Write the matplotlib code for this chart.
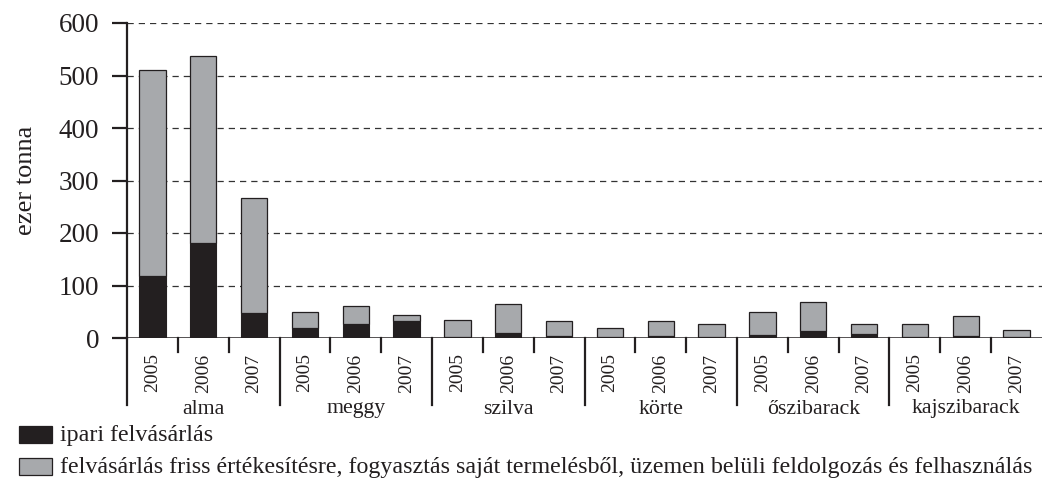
import numpy as np
import matplotlib.pyplot as plt
from matplotlib.patches import Rectangle
from matplotlib.lines import Line2D
import matplotlib.transforms as mtransforms

plt.rcParams['font.family'] = ['Liberation Serif', 'DejaVu Serif']

fruits = ["alma", "meggy", "szilva", "körte", "őszibarack", "kajszibarack"]
years = ["2005", "2006", "2007"]
# ipari felvásárlás (ezer tonna), fruit by fruit, 2005-2007
ipari = [118, 181, 47,
         20, 26, 32,
         2, 9, 4,
         1, 3, 1,
         5, 13, 7,
         2, 3, 2]
# total height of each column (ezer tonna)
total = [510, 537, 267,
         49, 61, 43,
         35, 64, 32,
         19, 32, 26,
         49, 68, 26,
         26, 41, 16]
egyeb = [t - i for t, i in zip(total, ipari)]
yticks = [0, 100, 200, 300, 400, 500, 600]
legend_labels = ["ipari felvásárlás",
                 "felvásárlás friss értékesítésre, fogyasztás saját termelésből, "
                 "üzemen belüli feldolgozás és felhasználás"]

black = "#231f20"
gray = "#a7a9ac"

W, H = 1043, 482
fig = plt.figure(figsize=(W / 100, H / 100), dpi=100)
ax = fig.add_axes([127 / W, (H - 338) / H, (1042 - 127) / W, 315 / H])

x = np.arange(len(total))
ax.bar(x, ipari, width=0.52, color=black, edgecolor=black, linewidth=0.8, zorder=3)
ax.bar(x, egyeb, bottom=ipari, width=0.52, color=gray, edgecolor=black,
       linewidth=0.9, zorder=3)

ax.set_xlim(-0.5, len(total) - 0.5)
ax.set_ylim(0, 600)
ax.set_yticks(yticks)
ax.tick_params(axis='y', direction='out', length=11, width=1.6, labelsize=19.5,
               pad=9, color=black, labelcolor=black)
ax.set_xticks([])
for v in yticks[1:]:
    ax.axhline(v, color="#333333", lw=0.9, dashes=(5, 4), zorder=1)
ax.axhline(0, color=black, lw=1.8, zorder=4)

for s in ["top", "right", "bottom"]:
    ax.spines[s].set_visible(False)
ax.spines["left"].set_linewidth(1.6)
ax.spines["left"].set_color(black)
ax.set_ylabel("ezer tonna", fontsize=19, color=black)
ax.yaxis.set_label_coords(-0.098, 0.5)

# category axis below the plot, in figure pixels
trans = mtransforms.blended_transform_factory(ax.transData, fig.transFigure)
def fy(px):
    return 1 - px / H

for i in range(len(total) - 1):
    b = i + 0.5
    if (i + 1) % 3 == 0:
        y0 = fy(405)
    else:
        y0 = fy(352)
    ax.add_line(Line2D([b, b], [fy(338), y0], transform=trans, color=black,
                       lw=1.6, clip_on=False))
ax.add_line(Line2D([-0.5, -0.5], [fy(338), fy(405)], transform=trans, color=black,
                   lw=1.6, clip_on=False))

for i in range(len(total)):
    ax.text(i, fy(373), years[i % 3], transform=trans, rotation=90, ha='center',
            va='center', fontsize=14, color=black)
for g, name in enumerate(fruits):
    ax.text(3 * g + 1, fy(409), name, transform=trans, ha='center', va='center',
            fontsize=15.7, color=black)

# legend
for k, (lab, col) in enumerate(zip(legend_labels, [black, gray])):
    yc = 435 + k * 32
    fig.patches.append(Rectangle((19 / W, fy(yc + 8)), 33 / W, 17 / H,
                                 transform=fig.transFigure, facecolor=col,
                                 edgecolor=black, lw=0.9))
    fig.text(60 / W, fy(yc), lab, ha='left', va='center', fontsize=17.3, color=black)

fig.savefig("out.png", dpi=100)
